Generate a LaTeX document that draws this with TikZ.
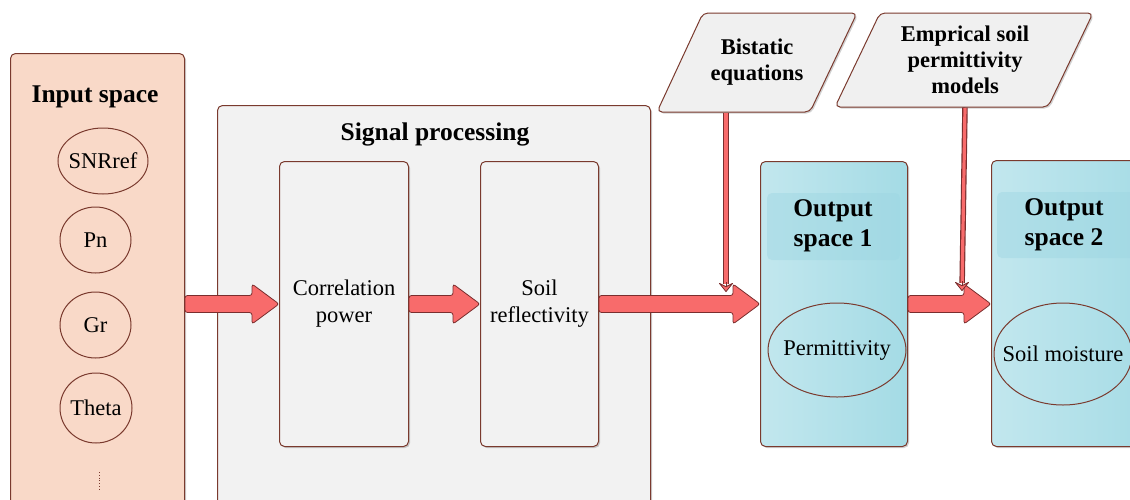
\documentclass[tikz,border=0pt]{standalone}
\usepackage{fontspec}
\setmainfont{Liberation Serif}
\usetikzlibrary{calc,arrows.meta,shapes.geometric,shadows}
\definecolor{brd}{HTML}{7A3A2E}
\definecolor{peach}{HTML}{F9D9C8}
\definecolor{lgray}{HTML}{F2F2F2}
\definecolor{blueL}{HTML}{C2E7EE}
\definecolor{blueR}{HTML}{A4DBE5}
\definecolor{panel}{HTML}{9DD6E2}
\definecolor{arrred}{HTML}{F86B6B}
\definecolor{arrbrd}{HTML}{7A2E2E}
\definecolor{paragray}{HTML}{F0F0F0}
\tikzset{
  shad/.style={drop shadow={shadow xshift=1.5pt, shadow yshift=-1.5pt, opacity=0.18, fill=black}},
  box/.style={rectangle, rounded corners=5pt, draw=brd, line width=1pt, inner sep=0pt, anchor=north west, shad},
  ttl/.style={font=\rmfamily\fontsize{25.5}{29.5}\selectfont\bfseries, align=center, inner sep=0pt},
  txt/.style={font=\rmfamily\fontsize{22.5}{27}\selectfont, align=center, inner sep=0pt},
  circ/.style={ellipse, draw=brd, line width=1pt, inner sep=0pt},
  parashape/.style={draw=brd, line width=1pt, fill=paragray, rounded corners=5pt, shad},
  paratxt/.style={font=\rmfamily\fontsize{22.5}{26}\selectfont\bfseries, align=center, inner sep=0pt},
  blockarrow/.style={draw=arrbrd, line width=0.8pt, fill=arrred, rounded corners=2.5pt,
    to path={let \p1=(\tikztostart), \p2=(\tikztotarget) in
      (\x1,\y1+8.5pt) -- (\x2-27pt,\y1+8.5pt) -- (\x2-27pt,\y1+20pt) -- (\x2,\y1)
      -- (\x2-27pt,\y1-20pt) -- (\x2-27pt,\y1-8.5pt) -- (\x1,\y1-8.5pt) -- cycle}},
  thinout/.style={line width=5.5pt, draw=arrbrd, shorten >=8pt, shorten <=0.5pt},
  thinin/.style={line width=3.2pt, draw=arrred, shorten >=8pt, shorten <=1.2pt},
  thintip/.style={draw=arrbrd, line width=0.8pt, -{Stealth[length=10pt, width=16pt, inset=4pt, fill=arrred, round]}},
}
\begin{document}
\begin{tikzpicture}[x=1pt,y=-1pt]
\clip (0,0) rectangle (1130,499);
% big boxes
\node[box, fill=peach, minimum width=174pt, minimum height=480pt] (inp) at (10,53) {};
\node[box, fill=lgray, minimum width=433pt, minimum height=420pt] (sig) at (217,105) {};
\node[box, left color=blueL, right color=blueR, minimum width=147pt, minimum height=285pt] (out1) at (760,161) {};
\node[box, left color=blueL, right color=blueR, minimum width=170pt, minimum height=286pt] (out2) at (991,160) {};
% panels
\fill[panel, opacity=0.45, rounded corners=5pt] (767,193) rectangle (900,260);
\fill[panel, opacity=0.45, rounded corners=5pt] (997,192) rectangle (1150,258);
% titles
\node[ttl] (tin) at (95,97) {Input space};
\node[ttl] (tsig) at (435,134) {Signal processing};
\node[ttl] (tout1) at (833,226) {Output\\space 1};
\node[ttl] (tout2) at (1064,225) {Output\\space 2};
% input circles
\node[circ, minimum width=90pt, minimum height=66pt] (snr) at (103,161) {};
\node[txt] at (snr.center) {SNRref};
\node[circ, minimum width=71pt, minimum height=66pt] (pn) at (95.5,240) {};
\node[txt] at (pn.center) {Pn};
\node[circ, minimum width=71pt, minimum height=66pt] (gr) at (95.5,325) {};
\node[txt] at (gr.center) {Gr};
\node[circ, minimum width=72pt, minimum height=70pt] (theta) at (96,408) {};
\node[txt] at (theta.center) {Theta};
\draw[brd, dotted, line width=0.8pt] (99,472) -- (99,490);
% processing boxes
\node[box, fill=lgray, minimum width=129pt, minimum height=285pt] (corr) at (279,161) {};
\node[txt] at (corr.center) {Correlation\\power};
\node[box, fill=lgray, minimum width=118pt, minimum height=285pt] (refl) at (480,161) {};
\node[txt] at (refl.center) {Soil\\reflectivity};
% output ellipses
\node[circ, minimum width=138pt, minimum height=94pt] (perm) at (837,350) {};
\node[txt] at (perm.center) {Permittivity};
\node[circ, minimum width=138pt, minimum height=102pt] (sm) at (1063,354) {};
\node[txt] at (sm.center) {Soil moisture};
% parallelograms
\draw[parashape] (703,13) -- (857,13) -- (810,112) -- (657,112) -- cycle;
\node[paratxt] (bist) at (757,62) {Bistatic\\equations};
\draw[parashape] (880,13) -- (1093,13) -- (1048,107) -- (835,107) -- cycle;
\node[paratxt] (emp) at (965,60) {Emprical soil\\permittivity\\models};
% block arrows
\draw[blockarrow] (inp.east |- corr.west) to (corr.west);
\draw[blockarrow] (corr.east) to (refl.west);
\draw[blockarrow] (refl.east) to (out1.west);
\draw[blockarrow] (out1.east) to (out2.west |- out1.east);
% thin arrows
\coordinate (bistB) at (726,112);
\coordinate (empB) at (965,107);
\coordinate (tipA) at (726,292);
\coordinate (tipB) at (962,291);
\draw[thinout] (bistB) -- (tipA);
\draw[thinin] (bistB) -- (tipA);
\draw[thintip] ($(tipA)+(0,-10)$) -- (tipA);
\draw[thinout] (empB) -- (tipB);
\draw[thinin] (empB) -- (tipB);
\draw[thintip] ($(tipB)+(0,-10)$) -- (tipB);
\end{tikzpicture}
\end{document}
